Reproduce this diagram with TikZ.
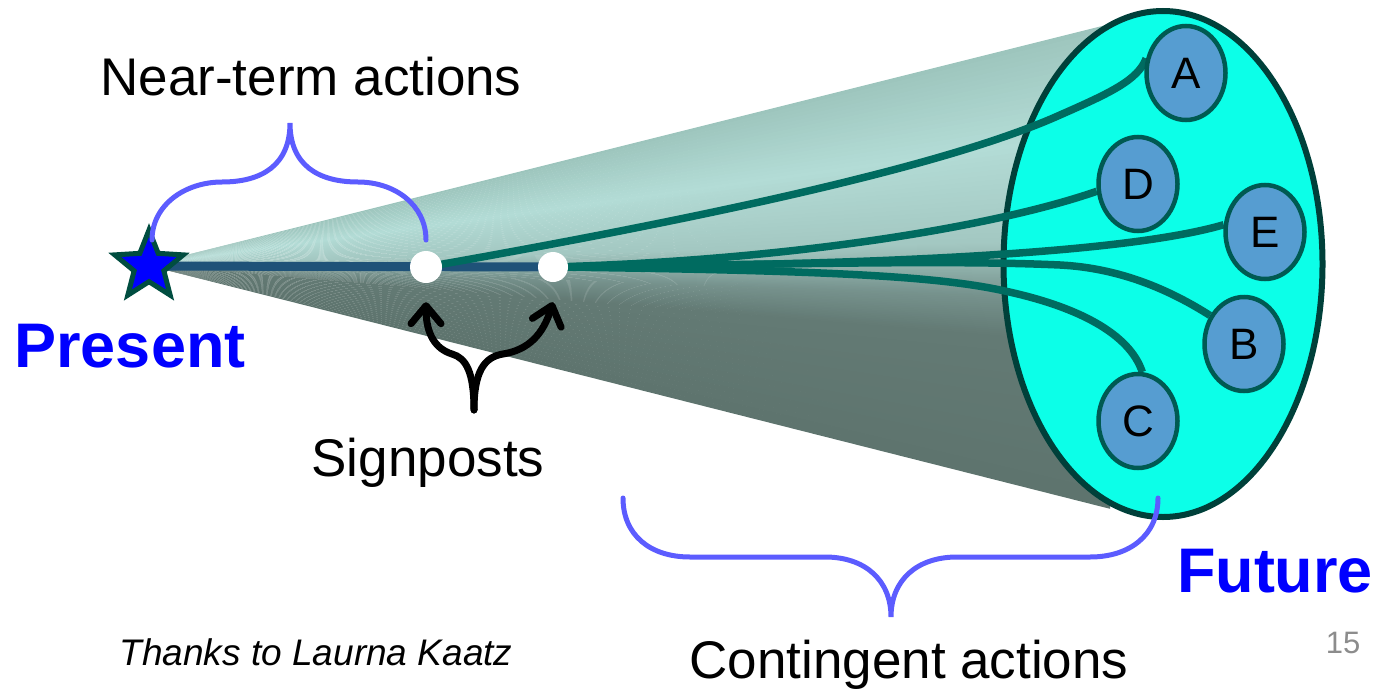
\documentclass[tikz,border=0pt]{standalone}
\usepackage{fontspec}
\setmainfont{Liberation Sans}
\usetikzlibrary{shapes.geometric,arrows.meta,calc}
\pgfdeclarelayer{back}
\pgfdeclarelayer{links}
\pgfdeclarelayer{front}
\pgfsetlayers{back,main,links,front}

% palette
\definecolor{coneA}{RGB}{157,197,189}
\definecolor{coneB}{RGB}{179,220,214}
\definecolor{coneC}{RGB}{163,199,193}
\definecolor{coneD}{RGB}{146,180,174}
\definecolor{coneE}{RGB}{118,146,141}
\definecolor{coneF}{RGB}{99,122,116}
\definecolor{coneG}{RGB}{94,116,110}
\definecolor{futfill}{RGB}{12,255,232}
\definecolor{futedge}{RGB}{0,64,58}
\definecolor{outfill}{RGB}{86,157,209}
\definecolor{outedge}{RGB}{0,90,82}
\definecolor{tealline}{RGB}{0,107,96}
\definecolor{axisline}{RGB}{31,82,120}
\definecolor{bracecol}{RGB}{92,92,255}
\definecolor{keyblue}{RGB}{0,0,255}
\definecolor{stargreen}{RGB}{0,77,64}
\definecolor{pagegray}{RGB}{140,140,140}

\begin{document}
\begin{tikzpicture}[x=1pt,y=-1pt,
  lbl/.style={font=\fontsize{53}{60}\selectfont, inner sep=0pt, anchor=base},
  big/.style={font=\fontsize{63}{70}\selectfont\bfseries, text=keyblue, inner sep=0pt, anchor=base},
  outcome/.style={ellipse, minimum width=79pt, minimum height=94pt, inner sep=0pt,
    fill=outfill, draw=outedge, line width=4.5pt, font=\fontsize{44}{50}\selectfont},
  branch/.style={draw=tealline, line width=7.5pt},
  brace/.style={draw=bracecol, line width=5pt, line cap=round},
  signpost/.style={circle, fill=white, inner sep=0pt},
  pointer/.style={draw=black, line width=7pt, line cap=round,
    -{Straight Barb[length=18pt,width=30pt,round]}}
]
\useasboundingbox (0,0) rectangle (1384,688);

% ---- the cone of possible futures, shaded by angle from its apex
\coordinate (apex) at (146,265);
\begin{pgfonlayer}{back}
\foreach \ya/\yb/\ca/\cb in {24/130/coneA/coneB, 130/240/coneB/coneC,
    240/265/coneC/coneD, 265/300/coneD/coneE, 300/345/coneE/coneF, 345/508/coneF/coneG}{
  \foreach \t in {0,...,19}{
    \pgfmathsetmacro\ylo{\ya+(\yb-\ya)*\t/20}
    \pgfmathsetmacro\yhi{\ya+(\yb-\ya)*(\t+1)/20+0.8}
    \pgfmathtruncatemacro\p{100*(\t+0.5)/20}
    \fill[fill={\cb!\p!\ca}] (apex) -- (1110,\ylo) -- (1110,\yhi) -- cycle;
  }
}
\end{pgfonlayer}

% ---- the far end of the cone
\node (fut) [ellipse, minimum width=319pt, minimum height=506pt, inner sep=0pt,
  fill=futfill, draw=futedge, line width=6pt] at (1163,264) {};

% ---- nodes on top
\begin{pgfonlayer}{front}
\node (now) [star, star points=5, star point ratio=2.3, minimum size=72pt, inner sep=0pt,
  fill=keyblue, draw=stargreen, line width=5pt] at (149,266) {};
\node (s1) [signpost, minimum size=32pt] at (426,267) {};
\node (s2) [signpost, minimum size=30pt] at (553,267) {};

\node (A) [outcome] at (1186,73) {A};
\node (D) [outcome] at (1138,184) {D};
\node (E) [outcome] at (1265,232) {E};
\node (B) [outcome] at (1244,344) {B};
\node (C) [outcome] at (1138,421) {C};

% braces
\draw[brace] (152,240) .. controls (152,205) and (185,182) .. (222,182)
  .. controls (262,182) and (290,165) .. (290,123)
  .. controls (290,165) and (318,182) .. (358,182)
  .. controls (395,182) and (426,205) .. (426,240);
\draw[brace] (623,498) .. controls (623,535) and (650,557) .. (690,557) -- (825,557)
  .. controls (865,557) and (891,580) .. (891,617)
  .. controls (891,580) and (917,557) .. (957,557) -- (1090,557)
  .. controls (1130,557) and (1158,535) .. (1158,498);

% signpost pointers
\coordinate (fork) at (474,410);
\draw[pointer] (fork) .. controls (474,372) and (466,358) .. (452,354)
  .. controls (436,349) and (426,335) .. ($(s1.south)+(0,19)$);
\draw[pointer] (fork) .. controls (474,372) and (484,357) .. (503,354)
  .. controls (528,350) and (543,335) .. ($(s2.south)+(0,20)$);

% labels
\node (lnear) [lbl] at (311,95) {Near-term actions};
\node (lpresent) [big] at (130,367) {Present};
\node (lfuture) [big] at (1275,592) {Future};
\node (lsign) [lbl] at (428,476) {Signposts};
\node (lcont) [lbl] at (909,678) {Contingent actions};
\node (lthanks) [inner sep=0pt, anchor=base, font=\fontsize{37}{42}\selectfont\itshape]
  at (316,665) {Thanks to Laurna Kaatz};
\node (lpage) [inner sep=0pt, anchor=base, text=pagegray, font=\fontsize{31}{36}\selectfont]
  at (1343,653) {15};
\end{pgfonlayer}

% ---- paths through time
\begin{pgfonlayer}{links}
\draw[draw=axisline, line width=9pt] (now.center) -- (s2.center);
\draw[branch] (s1.center) .. controls (750,210) and (960,160) .. (1060,115)
  .. controls (1110,93) and (1138,80) .. (A.160);
\draw[branch] (s2.center) .. controls (800,260) and (1000,225) .. (D.190);
\draw[branch] (s2.center) .. controls (800,266) and (1110,258) .. (E.170);
\draw[branch] (s2.center) .. controls (800,264) and (950,260) .. (1060,265)
  .. controls (1120,268) and (1170,290) .. (B.140);
\draw[branch] (s2.center) .. controls (800,270) and (920,275) .. (990,288)
  .. controls (1080,305) and (1130,335) .. (C.85);
\end{pgfonlayer}
\end{tikzpicture}
\end{document}
